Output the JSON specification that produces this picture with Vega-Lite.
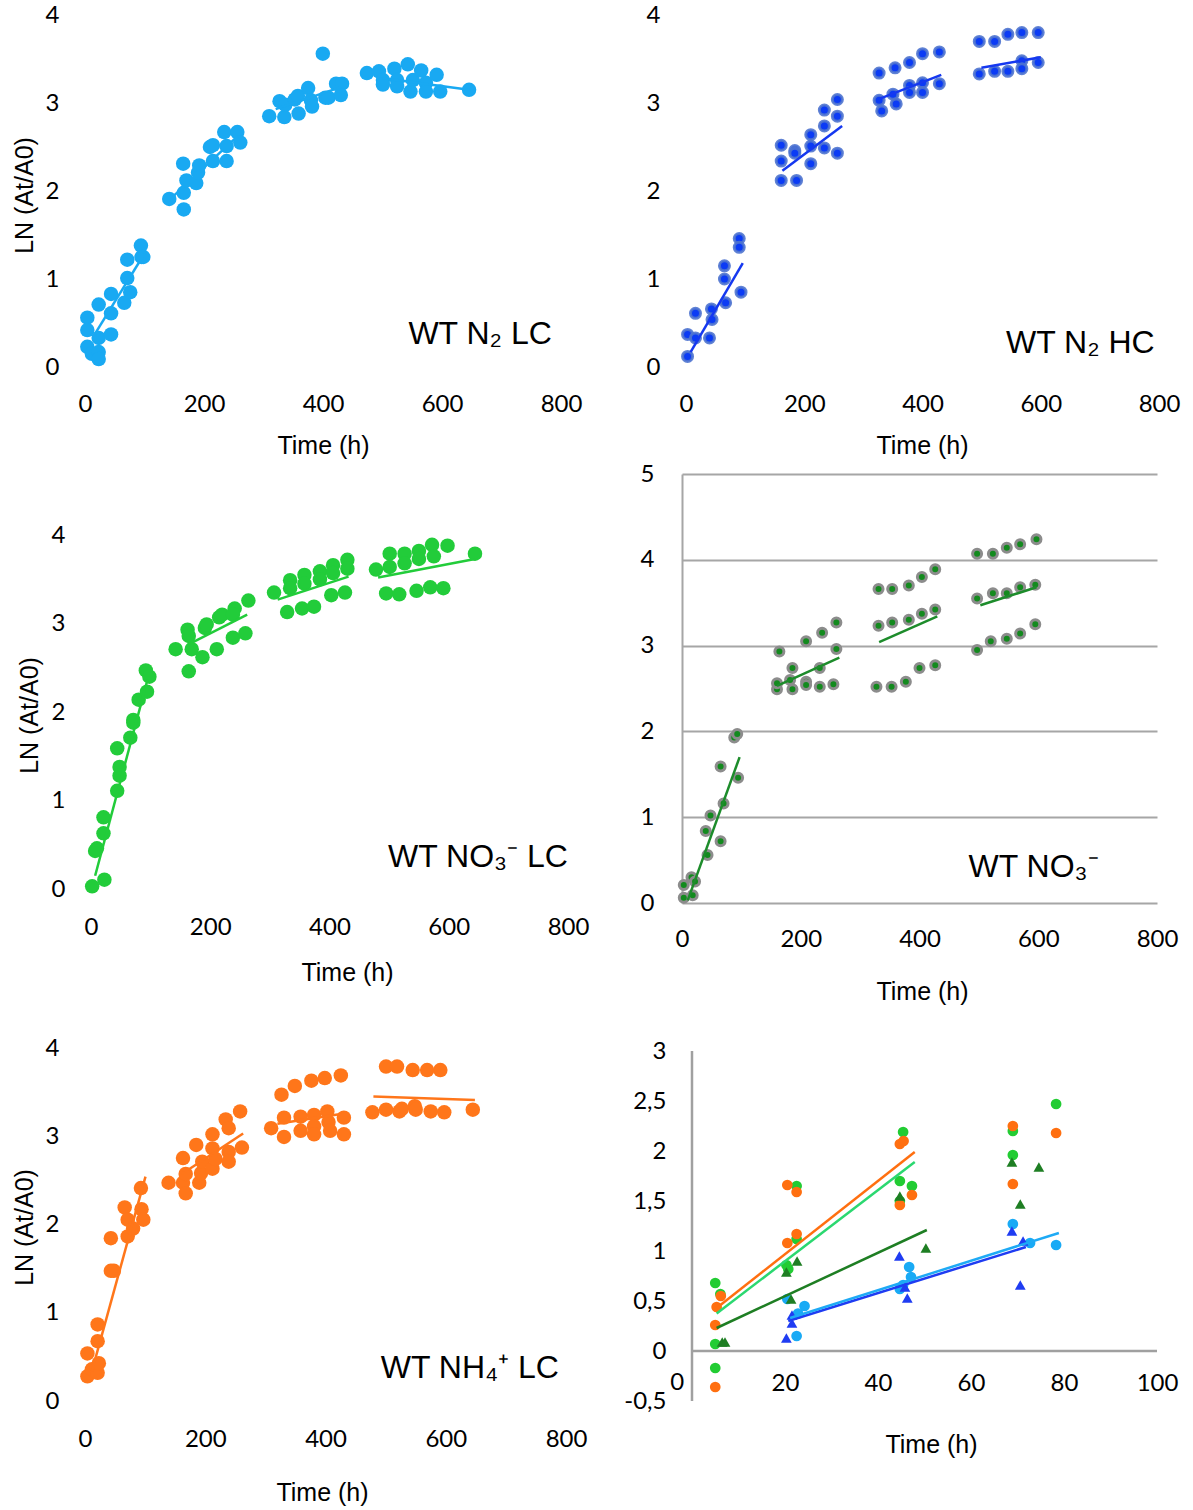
{
"$schema": "https://vega.github.io/schema/vega-lite/v6.json",
"background": "white",
"padding": {"left": 12, "top": 3, "right": 10, "bottom": 5},
"bounds": "flush",
"columns": 2,
"spacing": {"row": 107, "column": 114},
"config": {
 "view": {"stroke": null},
 "axis": {"ticks": false, "domain": false, "grid": false, "labelFont": "Lato", "labelFontSize": 24, "labelColor": "#000000", "labelFlush": false, "labelOverlap": false, "titleFont": "Liberation Sans", "titleFontSize": 25, "titleFontWeight": "normal", "titleColor": "#000000"}
},
"datasets": {
 "n2lc": [{"t":3.9,"v":0.56},{"t":3.9,"v":0.42},{"t":3.9,"v":0.23},{"t":11.6,"v":0.15},{"t":23,"v":0.71},{"t":23,"v":0.33},{"t":23,"v":0.17},{"t":23,"v":0.09},{"t":43.8,"v":0.83},{"t":43.8,"v":0.61},{"t":43.8,"v":0.37},{"t":66,"v":0.73},{"t":71,"v":1.22},{"t":71,"v":1.01},{"t":76,"v":0.85},{"t":94,"v":1.38},{"t":95,"v":1.25},{"t":98,"v":1.25},
  {"t":141.6,"v":1.91},{"t":165,"v":2.31},{"t":166,"v":1.98},{"t":166,"v":1.79},{"t":170.5,"v":2.12},{"t":187,"v":2.09},{"t":190,"v":2.21},{"t":192,"v":2.29},{"t":210,"v":2.5},{"t":215,"v":2.52},{"t":215,"v":2.34},{"t":234,"v":2.67},{"t":238,"v":2.51},{"t":238,"v":2.34},{"t":256,"v":2.67},{"t":261,"v":2.55},
  {"t":309.6,"v":2.85},{"t":327,"v":3.02},{"t":335,"v":2.84},{"t":336.6,"v":2.98},{"t":352.7,"v":3.04},{"t":357.8,"v":3.08},{"t":359,"v":2.88},{"t":375,"v":3.17},{"t":379.7,"v":3.03},{"t":381.6,"v":2.96},{"t":399.7,"v":3.56},{"t":404,"v":3.06},{"t":409,"v":3.06},{"t":422,"v":3.22},{"t":432,"v":3.22},{"t":430,"v":3.09},
  {"t":473.7,"v":3.34},{"t":494,"v":3.36},{"t":500.7,"v":3.26},{"t":500.7,"v":3.21},{"t":520,"v":3.39},{"t":524.5,"v":3.26},{"t":524.5,"v":3.19},{"t":542.5,"v":3.44},{"t":547,"v":3.13},{"t":551,"v":3.26},{"t":565,"v":3.37},{"t":573,"v":3.23},{"t":573,"v":3.13},{"t":591,"v":3.32},{"t":597,"v":3.13},{"t":645.5,"v":3.15}],
 "n2lc_fit": [{"s":1,"t":17,"v":0.38},{"s":1,"t":100,"v":1.29},{"s":2,"t":150,"v":1.95},{"s":2,"t":256,"v":2.62},{"s":3,"t":320.5,"v":2.93},{"s":3,"t":430,"v":3.18},{"s":4,"t":500.7,"v":3.28},{"s":4,"t":645.5,"v":3.15}],
 "n2hc": [{"t":2.6,"v":0.12},{"t":2.6,"v":0.37},{"t":16,"v":0.61},{"t":16,"v":0.33},{"t":39.7,"v":0.33},{"t":43,"v":0.66},{"t":44,"v":0.54},{"t":65,"v":1.15},{"t":65,"v":1.0},{"t":67,"v":0.73},{"t":90,"v":1.46},{"t":90,"v":1.36},{"t":93,"v":0.85},
  {"t":161,"v":2.52},{"t":161,"v":2.34},{"t":161,"v":2.12},{"t":184,"v":2.46},{"t":184,"v":2.43},{"t":187,"v":2.12},{"t":211,"v":2.64},{"t":211,"v":2.51},{"t":211,"v":2.31},{"t":234,"v":2.92},{"t":234,"v":2.74},{"t":234,"v":2.49},{"t":256,"v":3.04},{"t":256,"v":2.85},{"t":256,"v":2.43},
  {"t":326.6,"v":3.34},{"t":326.6,"v":3.03},{"t":331,"v":2.91},{"t":353.6,"v":3.4},{"t":350,"v":3.1},{"t":355.5,"v":2.99},{"t":378,"v":3.46},{"t":378,"v":3.2},{"t":378,"v":3.12},{"t":400,"v":3.56},{"t":400,"v":3.23},{"t":400,"v":3.12},{"t":428.5,"v":3.58},{"t":428.5,"v":3.22},
  {"t":496,"v":3.7},{"t":496,"v":3.33},{"t":522,"v":3.7},{"t":522,"v":3.36},{"t":544.4,"v":3.78},{"t":544.4,"v":3.36},{"t":568,"v":3.8},{"t":568,"v":3.48},{"t":568,"v":3.39},{"t":595.7,"v":3.8},{"t":595.7,"v":3.46}],
 "n2hc_fit": [{"s":1,"t":7.7,"v":0.17},{"s":1,"t":96,"v":1.18},{"s":2,"t":163,"v":2.23},{"s":2,"t":264,"v":2.74},{"s":3,"t":328,"v":3.05},{"s":3,"t":431.7,"v":3.32},{"s":4,"t":499.6,"v":3.4},{"s":4,"t":600,"v":3.52}],
 "no3lc": [{"t":2,"v":0.03},{"t":7,"v":0.43},{"t":10,"v":0.46},{"t":22.5,"v":0.105},{"t":21,"v":0.81},{"t":21,"v":0.63},{"t":44,"v":1.59},{"t":44,"v":1.11},{"t":48,"v":1.38},{"t":48,"v":1.28},{"t":66,"v":1.71},{"t":71,"v":1.91},{"t":71,"v":1.88},{"t":80,"v":2.14},{"t":94,"v":2.23},{"t":92,"v":2.47},{"t":98,"v":2.4},
  {"t":142,"v":2.71},{"t":162,"v":2.93},{"t":164,"v":2.86},{"t":169,"v":2.71},{"t":164,"v":2.46},{"t":187,"v":2.62},{"t":191,"v":2.95},{"t":194,"v":2.99},{"t":211,"v":2.71},{"t":215,"v":3.07},{"t":220,"v":3.1},{"t":238,"v":2.84},{"t":241,"v":3.17},{"t":238,"v":3.1},{"t":259,"v":2.89},{"t":264,"v":3.26},
  {"t":307,"v":3.35},{"t":329,"v":3.13},{"t":334,"v":3.49},{"t":334,"v":3.4},{"t":354,"v":3.17},{"t":358,"v":3.55},{"t":358,"v":3.45},{"t":374,"v":3.19},{"t":384,"v":3.59},{"t":384,"v":3.5},{"t":403,"v":3.32},{"t":406,"v":3.66},{"t":406,"v":3.57},{"t":426,"v":3.35},{"t":430,"v":3.72},{"t":430,"v":3.62},
  {"t":478,"v":3.61},{"t":495,"v":3.34},{"t":501,"v":3.79},{"t":501,"v":3.64},{"t":517,"v":3.33},{"t":526,"v":3.79},{"t":526,"v":3.68},{"t":546,"v":3.37},{"t":550,"v":3.82},{"t":550,"v":3.73},{"t":569,"v":3.41},{"t":572,"v":3.89},{"t":575,"v":3.76},{"t":591,"v":3.4},{"t":598,"v":3.88},{"t":644,"v":3.79}],
 "no3lc_fit": [{"s":1,"t":7,"v":0.15},{"s":1,"t":95,"v":2.37},{"s":2,"t":162,"v":2.76},{"s":2,"t":262,"v":3.1},{"s":3,"t":313,"v":3.27},{"s":3,"t":432,"v":3.53},{"s":4,"t":481.5,"v":3.52},{"s":4,"t":644,"v":3.73}],
 "no3": [{"t":3,"v":0.06},{"t":3,"v":0.21},{"t":16,"v":0.3},{"t":18,"v":0.09},{"t":22,"v":0.25},{"t":40,"v":0.84},{"t":43,"v":0.56},{"t":48,"v":1.02},{"t":65,"v":1.59},{"t":65,"v":0.72},{"t":70,"v":1.16},{"t":88,"v":1.93},{"t":93,"v":1.97},{"t":94.5,"v":1.46},
  {"t":160,"v":2.49},{"t":160,"v":2.56},{"t":164,"v":2.93},{"t":182,"v":2.6},{"t":186,"v":2.74},{"t":186,"v":2.49},{"t":209,"v":3.05},{"t":209,"v":2.58},{"t":209,"v":2.54},{"t":232,"v":2.74},{"t":232,"v":2.52},{"t":236,"v":3.15},{"t":255,"v":2.55},{"t":260,"v":2.96},{"t":260,"v":3.27},
  {"t":327.5,"v":2.52},{"t":331,"v":3.66},{"t":331,"v":3.23},{"t":353,"v":2.52},{"t":354,"v":3.66},{"t":354,"v":3.27},{"t":377,"v":2.58},{"t":382,"v":3.7},{"t":382,"v":3.3},{"t":400,"v":2.74},{"t":404,"v":3.8},{"t":404,"v":3.37},{"t":426.5,"v":2.77},{"t":426.5,"v":3.89},{"t":426.5,"v":3.42},
  {"t":497,"v":4.07},{"t":497,"v":3.55},{"t":497,"v":2.95},{"t":523.6,"v":4.07},{"t":523.6,"v":3.61},{"t":520,"v":3.05},{"t":547,"v":4.14},{"t":547,"v":3.61},{"t":547,"v":3.08},{"t":569.5,"v":4.18},{"t":569.5,"v":3.68},{"t":569.5,"v":3.14},{"t":597,"v":4.24},{"t":595,"v":3.71},{"t":595,"v":3.25}],
 "no3_fit": [{"s":1,"t":9.6,"v":0.03},{"s":1,"t":97,"v":1.7},{"s":2,"t":160,"v":2.53},{"s":2,"t":265,"v":2.86},{"s":3,"t":332,"v":3.04},{"s":3,"t":430,"v":3.34},{"s":4,"t":502.5,"v":3.47},{"s":4,"t":597,"v":3.68}],
 "nh4": [{"t":4,"v":0.28},{"t":4,"v":0.54},{"t":11.5,"v":0.36},{"t":21,"v":0.32},{"t":23,"v":0.43},{"t":21,"v":0.68},{"t":21,"v":0.87},{"t":43,"v":1.85},{"t":43,"v":1.48},{"t":48,"v":1.48},{"t":66,"v":2.2},{"t":71,"v":1.87},{"t":71,"v":2.06},{"t":80,"v":1.96},{"t":93,"v":2.42},{"t":94,"v":2.18},{"t":97,"v":2.06},
  {"t":139,"v":2.48},{"t":163,"v":2.76},{"t":163,"v":2.48},{"t":167.5,"v":2.58},{"t":167.5,"v":2.36},{"t":185,"v":2.91},{"t":190,"v":2.48},{"t":193,"v":2.59},{"t":195,"v":2.72},{"t":212,"v":3.03},{"t":212,"v":2.87},{"t":212,"v":2.64},{"t":217,"v":2.75},{"t":234,"v":3.2},{"t":239,"v":3.1},{"t":239,"v":2.83},{"t":239,"v":2.72},{"t":258,"v":3.29},{"t":261,"v":2.88},
  {"t":309.6,"v":3.1},{"t":326.8,"v":3.48},{"t":331,"v":3.22},{"t":331,"v":3.0},{"t":349,"v":3.58},{"t":358.6,"v":3.23},{"t":358.6,"v":3.07},{"t":376.5,"v":3.64},{"t":381,"v":3.25},{"t":381,"v":3.12},{"t":381,"v":3.03},{"t":398.8,"v":3.67},{"t":403,"v":3.29},{"t":405,"v":3.17},{"t":407.7,"v":3.07},{"t":425.5,"v":3.7},{"t":430.6,"v":3.22},{"t":430.6,"v":3.03},
  {"t":478,"v":3.28},{"t":500.7,"v":3.8},{"t":500.7,"v":3.31},{"t":519,"v":3.8},{"t":523,"v":3.29},{"t":527,"v":3.32},{"t":545,"v":3.76},{"t":548.5,"v":3.35},{"t":550,"v":3.31},{"t":569,"v":3.76},{"t":575,"v":3.29},{"t":591,"v":3.76},{"t":597.5,"v":3.28},{"t":645,"v":3.31}],
 "nh4_fit": [{"s":1,"t":11.5,"v":0.34},{"s":1,"t":100.6,"v":2.55},{"s":2,"t":161,"v":2.58},{"s":2,"t":263,"v":3.04},{"s":3,"t":320,"v":3.15},{"s":3,"t":425.5,"v":3.26},{"s":4,"t":479.7,"v":3.46},{"s":4,"t":648.5,"v":3.42}],
 "p6": [{"s":"NO3LC","t":5,"v":0.68},{"s":"NO3LC","t":6.1,"v":0.57},{"s":"NO3LC","t":5,"v":0.07},{"s":"NO3LC","t":5,"v":-0.17},{"s":"NO3LC","t":20.3,"v":0.86},{"s":"NO3LC","t":20.7,"v":0.82},{"s":"NO3LC","t":22.5,"v":1.65},{"s":"NO3LC","t":22.5,"v":1.12},{"s":"NO3LC","t":45.4,"v":2.19},{"s":"NO3LC","t":44.7,"v":1.7},{"s":"NO3LC","t":47.3,"v":1.65},{"s":"NO3LC","t":44.7,"v":1.5},{"s":"NO3LC","t":69,"v":2.2},{"s":"NO3LC","t":69,"v":1.96},{"s":"NO3LC","t":78.3,"v":2.47},
  {"s":"NH4LC","t":5,"v":-0.36},{"s":"NH4LC","t":5,"v":0.26},{"s":"NH4LC","t":5.3,"v":0.44},{"s":"NH4LC","t":6.2,"v":0.55},{"s":"NH4LC","t":20.5,"v":1.66},{"s":"NH4LC","t":22.5,"v":1.59},{"s":"NH4LC","t":20.5,"v":1.08},{"s":"NH4LC","t":22.5,"v":1.17},{"s":"NH4LC","t":44.7,"v":2.07},{"s":"NH4LC","t":45.5,"v":2.1},{"s":"NH4LC","t":44.7,"v":1.46},{"s":"NH4LC","t":47.3,"v":1.56},{"s":"NH4LC","t":69,"v":2.25},{"s":"NH4LC","t":69,"v":1.67},{"s":"NH4LC","t":78.3,"v":2.18},
  {"s":"N2LC","t":20.5,"v":0.52},{"s":"N2LC","t":22.5,"v":0.15},{"s":"N2LC","t":22.8,"v":0.375},{"s":"N2LC","t":24.2,"v":0.45},{"s":"N2LC","t":44.7,"v":0.62},{"s":"N2LC","t":45.4,"v":0.66},{"s":"N2LC","t":46.7,"v":0.84},{"s":"N2LC","t":47.1,"v":0.74},{"s":"N2LC","t":69,"v":1.27},{"s":"N2LC","t":72.7,"v":1.08},{"s":"N2LC","t":78.3,"v":1.06},
  {"s":"NO3","t":6.5,"v":0.09},{"s":"NO3","t":7.1,"v":0.09},{"s":"NO3","t":20.3,"v":0.79},{"s":"NO3","t":22.6,"v":0.9},{"s":"NO3","t":21.3,"v":0.52},{"s":"NO3","t":44.7,"v":1.55},{"s":"NO3","t":50.3,"v":1.03},{"s":"NO3","t":68.8,"v":1.89},{"s":"NO3","t":70.6,"v":1.47},{"s":"NO3","t":74.6,"v":1.84},
  {"s":"N2HC","t":20.3,"v":0.13},{"s":"N2HC","t":21.5,"v":0.28},{"s":"N2HC","t":21.5,"v":0.36},{"s":"N2HC","t":44.6,"v":0.95},{"s":"N2HC","t":46.3,"v":0.53},{"s":"N2HC","t":45.8,"v":0.64},{"s":"N2HC","t":68.8,"v":1.2},{"s":"N2HC","t":70.6,"v":0.66},{"s":"N2HC","t":71.2,"v":1.1}],
 "p6fit": [{"s":"fNO3","t":5.3,"v":0.23},{"s":"fNO3","t":50.5,"v":1.21},{"s":"fN2HC","t":20.7,"v":0.3},{"s":"fN2HC","t":71.8,"v":1.04},{"s":"fN2LC","t":21.1,"v":0.33},{"s":"fN2LC","t":78.9,"v":1.18},{"s":"fNO3LC","t":5.3,"v":0.375},{"s":"fNO3LC","t":47.9,"v":1.89},{"s":"fNH4LC","t":5.3,"v":0.43},{"s":"fNH4LC","t":47.9,"v":1.99}]
},
"concat": [
  {"width": 476, "height": 352,
   "encoding": {"x": {"field": "t", "type": "quantitative", "scale": {"domain": [0, 800], "nice": false, "zero": false}, "axis": {"values": [0, 200, 400, 600, 800], "labelPadding": 37, "labelBaseline": "middle", "title": "Time (h)", "titleX": 238, "titleY": 66}},
      "y": {"field": "v", "type": "quantitative", "scale": {"domain": [0, 4], "nice": false, "zero": false}, "axis": {"values": [0, 1, 2, 3, 4], "labelPadding": 26, "title": "LN (At/A0)", "titleX": -48, "titleY": 180}}},
   "layer": [
    {"data": {"name": "n2lc"}, "mark": {"type": "point", "filled": true, "opacity": 1, "size": 210, "color": "#19A9F2"}},
    {"data": {"name": "n2lc_fit"}, "mark": {"type": "line", "color": "#19A9F2", "strokeWidth": 2.5}, "encoding": {"detail": {"field": "s"}}},
    {"data": {"values": [{"t": 664, "v": 0.37, "label": "WT N₂ LC"}]}, "mark": {"type": "text", "font": "Liberation Sans", "fontSize": 32, "color": "#000000", "align": "center", "baseline": "middle"}, "encoding": {"text": {"field": "label"}}}
   ]},
  {"width": 477, "height": 352,
   "encoding": {"x": {"field": "t", "type": "quantitative", "scale": {"domain": [-6.8, 800], "nice": false, "zero": false}, "axis": {"values": [0, 200, 400, 600, 800], "labelPadding": 37, "labelBaseline": "middle", "title": "Time (h)", "titleX": 240, "titleY": 66}},
      "y": {"field": "v", "type": "quantitative", "scale": {"domain": [0, 4], "nice": false, "zero": false}, "axis": {"values": [0, 1, 2, 3, 4], "labelPadding": 22, "title": null}}},
   "layer": [
    {"data": {"name": "n2hc"}, "mark": {"type": "point", "filled": true, "opacity": 1, "size": 100, "fill": "#0B3BF5", "stroke": "#4F74CF", "strokeWidth": 3, "strokeOpacity": 0.9}},
    {"data": {"name": "n2hc_fit"}, "mark": {"type": "line", "color": "#1538F0", "strokeWidth": 2.5}, "encoding": {"detail": {"field": "s"}}},
    {"data": {"values": [{"t": 667, "v": 0.27, "label": "WT N₂ HC"}]}, "mark": {"type": "text", "font": "Liberation Sans", "fontSize": 32, "color": "#000000", "align": "center", "baseline": "middle"}, "encoding": {"text": {"field": "label"}}}
   ]},
  {"width": 483, "height": 415,
   "encoding": {"x": {"field": "t", "type": "quantitative", "scale": {"domain": [-10, 800], "nice": false, "zero": false}, "axis": {"values": [0, 200, 400, 600, 800], "labelPadding": 38, "labelBaseline": "middle", "title": "Time (h)", "titleX": 262, "titleY": 71}},
      "y": {"field": "v", "type": "quantitative", "scale": {"domain": [0, 4.69], "nice": false, "zero": false}, "axis": {"values": [0, 1, 2, 3, 4], "labelPadding": 20, "title": "LN (At/A0)", "titleX": -43, "titleY": 241}}},
   "layer": [
    {"data": {"name": "no3lc"}, "mark": {"type": "point", "filled": true, "opacity": 1, "size": 210, "color": "#22CC3A"}},
    {"data": {"name": "no3lc_fit"}, "mark": {"type": "line", "color": "#22CC3A", "strokeWidth": 2.5}, "encoding": {"detail": {"field": "s"}}},
    {"data": {"values": [{"t": 649, "v": 0.36, "label": "WT NO₃⁻ LC"}]}, "mark": {"type": "text", "font": "Liberation Sans", "fontSize": 32, "color": "#000000", "align": "center", "baseline": "middle"}, "encoding": {"text": {"field": "label"}}}
   ]},
  {"width": 475, "height": 429,
   "encoding": {"x": {"field": "t", "type": "quantitative", "scale": {"domain": [0, 800], "nice": false, "zero": false}, "axis": {"values": [0, 200, 400, 600, 800], "labelPadding": 36, "labelBaseline": "middle", "title": "Time (h)", "titleX": 240, "titleY": 76}},
      "y": {"field": "v", "type": "quantitative", "scale": {"domain": [0, 5], "nice": false, "zero": false}, "axis": {"values": [0, 1, 2, 3, 4, 5], "labelPadding": 28, "title": null, "grid": true, "gridColor": "#A6A6A6", "gridWidth": 2, "domain": true, "domainColor": "#A6A6A6", "domainWidth": 2}}},
   "layer": [
    {"data": {"name": "no3"}, "mark": {"type": "point", "filled": true, "opacity": 1, "size": 81, "fill": "#138A1E", "stroke": "#8C8C8C", "strokeWidth": 3}},
    {"data": {"name": "no3_fit"}, "mark": {"type": "line", "color": "#1D8C2B", "strokeWidth": 2.5}, "encoding": {"detail": {"field": "s"}}},
    {"data": {"values": [{"t": 592, "v": 0.42, "label": "WT NO₃⁻"}]}, "mark": {"type": "text", "font": "Liberation Sans", "fontSize": 32, "color": "#000000", "align": "center", "baseline": "middle"}, "encoding": {"text": {"field": "label"}}}
   ]},
  {"width": 481, "height": 391,
   "encoding": {"x": {"field": "t", "type": "quantitative", "scale": {"domain": [0, 800], "nice": false, "zero": false}, "axis": {"values": [0, 200, 400, 600, 800], "labelPadding": 38, "labelBaseline": "middle", "title": "Time (h)", "titleX": 237, "titleY": 79}},
      "y": {"field": "v", "type": "quantitative", "scale": {"domain": [0, 4.443], "nice": false, "zero": false}, "axis": {"values": [0, 1, 2, 3, 4], "labelPadding": 26, "title": "LN (At/A0)", "titleX": -48, "titleY": 217}}},
   "layer": [
    {"data": {"name": "nh4"}, "mark": {"type": "point", "filled": true, "opacity": 1, "size": 210, "color": "#FF761A"}},
    {"data": {"name": "nh4_fit"}, "mark": {"type": "line", "color": "#FF761A", "strokeWidth": 2.5}, "encoding": {"detail": {"field": "s"}}},
    {"data": {"values": [{"t": 640, "v": 0.37, "label": "WT NH₄⁺ LC"}]}, "mark": {"type": "text", "font": "Liberation Sans", "fontSize": 32, "color": "#000000", "align": "center", "baseline": "middle"}, "encoding": {"text": {"field": "label"}}}
   ]},
  {"width": 475, "height": 391,
   "encoding": {"x": {"field": "t", "type": "quantitative", "scale": {"domain": [-2.15, 100], "nice": false, "zero": false}, "axis": {"values": [20, 40, 60, 80, 100], "labelPadding": -18, "labelBaseline": "middle", "title": "Time (h)", "titleX": 249, "titleY": 31}},
      "y": {"field": "v", "type": "quantitative", "scale": {"domain": [-0.5, 3.41], "nice": false, "zero": false}, "axis": {"values": [-0.5, 0, 0.5, 1, 1.5, 2, 2.5, 3], "labelPadding": 16, "title": null, "labelExpr": "datum.value < 0 ? '-0,5' : replace(format(datum.value, '.1~f'), '.', ',')"}}},
   "layer": [
    {"data": {"values": [{"t": 0, "v": -0.5, "v2": 3}]}, "mark": {"type": "rule", "color": "#A0A0A0", "strokeWidth": 2.5}, "encoding": {"y2": {"field": "v2"}}},
    {"data": {"values": [{"t": 0, "t2": 100, "v": 0}]}, "mark": {"type": "rule", "color": "#A0A0A0", "strokeWidth": 2.5}, "encoding": {"x2": {"field": "t2"}}},
    {"data": {"values": [{"t": -3.2, "v": -0.32, "label": "0"}]}, "mark": {"type": "text", "font": "Lato", "fontSize": 24, "color": "#000000", "align": "center", "baseline": "middle"}, "encoding": {"text": {"field": "label"}}},
    {"data": {"name": "p6"}, "mark": {"type": "point", "filled": true, "opacity": 1, "size": 115},
     "encoding": {
      "color": {"field": "s", "type": "nominal", "scale": {"domain": ["NO3LC", "NH4LC", "N2LC", "NO3", "N2HC", "fNH4LC", "fNO3LC", "fNO3", "fN2LC", "fN2HC"], "range": ["#22CC33", "#FF6F10", "#19AAF5", "#1E7E23", "#1F3CF2", "#FF6F10", "#2BD870", "#1E7E23", "#1EAAF5", "#1F3CF2"]}, "legend": null},
      "shape": {"field": "s", "type": "nominal", "scale": {"domain": ["NO3LC", "NH4LC", "N2LC", "NO3", "N2HC"], "range": ["circle", "circle", "circle", "triangle-up", "triangle-up"]}, "legend": null}}},
    {"data": {"name": "p6fit"}, "mark": {"type": "line", "strokeWidth": 2.5},
     "encoding": {"color": {"field": "s", "type": "nominal", "legend": null}}}
   ]}
],
"resolve": {"scale": {"x": "independent", "y": "independent"}}
}
